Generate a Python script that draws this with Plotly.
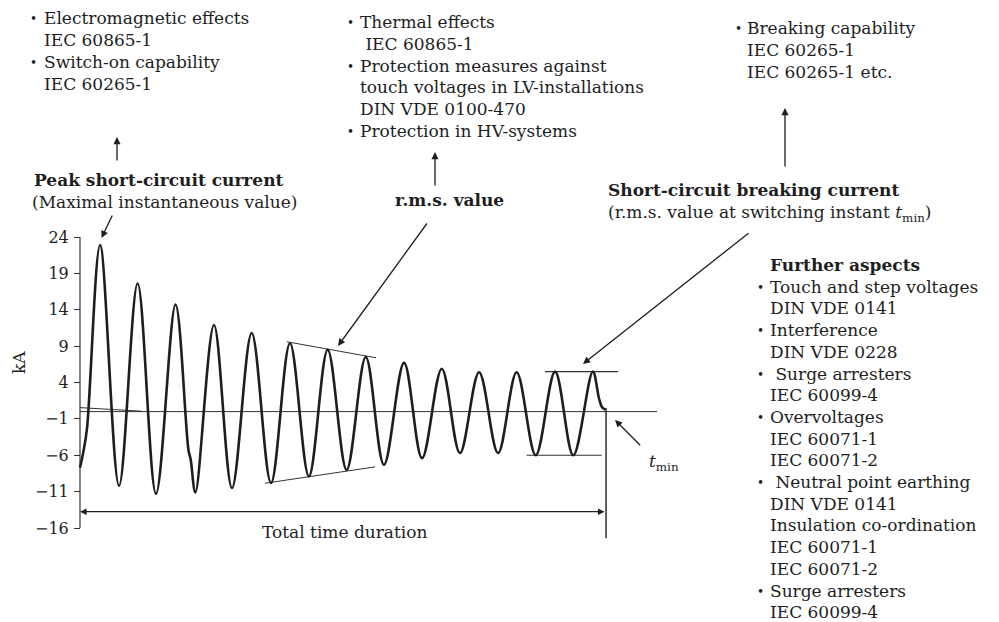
import plotly.graph_objects as go

# ---------------------------------------------------------------------------
# Short-circuit current i(t): extrema of the trace (plus the start, the
# notch in the third negative half-wave and the end at switching instant)
# time in ms (50 Hz -> 20 ms period), current in kA
# ---------------------------------------------------------------------------
t_ms = [0.0, 1.8, 3.7, 10.6, 20.6, 30.4, 40.1, 50.4, 57.2, 58.4, 60.9,
        70.7, 80.2, 90.6, 100.8, 110.8, 120.8, 130.7, 140.7, 150.8, 160.4,
        171.0, 180.5, 190.9, 200.5, 210.6, 220.6, 230.4, 240.5, 250.7, 260.3,
        270.6, 273.9, 275.5, 277.3]
i_ka = [-7.7, -5.5, -2.3, 22.9, -10.2, 17.6, -11.3, 14.7, -5.2, -6.6, -11.1,
        11.9, -10.5, 10.8, -9.8, 9.4, -8.9, 8.5, -8.0, 7.5, -7.3,
        6.7, -6.4, 5.9, -5.7, 5.4, -5.7, 5.4, -6.0, 5.5, -6.0,
        5.5, 1.8, 0.6, 0.3]

# decaying d.c. component near the start
dc_t = [0.0, 32.6]
dc_i = [0.55, 0.05]

# r.m.s. envelope lines
env_upper_t = [109.1, 156.2]
env_upper_i = [9.6, 7.4]
env_lower_t = [97.6, 155.7]
env_lower_i = [-9.85, -7.6]

# breaking current level lines (peak / trough at switching instant)
brk_upper_t = [245.4, 283.9]
brk_upper_i = [5.5, 5.5]
brk_lower_t = [235.7, 275.3]
brk_lower_i = [-6.0, -6.0]

# switching instant t_min and total duration
t_min_ms = 277.6
t_min_line_i = [0.5, -17.4]
duration_level = -13.76
baseline_end_ms = 304.5

y_ticks = [-16, -11, -6, -1, 4, 9, 14, 19, 24]

# ---------------------------------------------------------------------------
# Text blocks
# ---------------------------------------------------------------------------
block_emag = ["Electromagnetic effects", "IEC 60865-1",
              "Switch-on capability", "IEC 60265-1"]
block_emag_bullets = [True, False, True, False]

block_therm = ["Thermal effects", " IEC 60865-1", "Protection measures against",
               "touch voltages in LV-installations", "DIN VDE 0100-470",
               "Protection in HV-systems"]
block_therm_bullets = [True, False, True, False, False, True]

block_break = ["Breaking capability", "IEC 60265-1", "IEC 60265-1 etc."]
block_break_bullets = [True, False, False]

block_further = ["Touch and step voltages", "DIN VDE 0141", "Interference",
                 "DIN VDE 0228", " Surge arresters", "IEC 60099-4",
                 "Overvoltages", "IEC 60071-1", "IEC 60071-2",
                 " Neutral point earthing", "DIN VDE 0141",
                 "Insulation co-ordination", "IEC 60071-1", "IEC 60071-2",
                 "Surge arresters", "IEC 60099-4"]
block_further_bullets = [True, False, True, False, True, False, True, False,
                         False, True, False, False, False, False, True, False]

# ---------------------------------------------------------------------------
# Geometry helpers (figure pixels -> paper fractions)
# ---------------------------------------------------------------------------
W, H = 999, 622
FONT = "DejaVu Serif"
INK = "#1e1e1e"
LINE = "#333333"
TXT = 17


def px(x):
    return x / W


def py(y):
    return 1 - y / H


PX_PER_MS = 1.895
X0_PX = 80
X_RANGE = [-2.0, 310.0]
x_dom = [px(X0_PX + X_RANGE[0] * PX_PER_MS), px(X0_PX + X_RANGE[1] * PX_PER_MS)]

PX_PER_KA = 7.275
Y24_PX = 237
Y_RANGE = [-18.5, 26.0]
y_dom = [py(Y24_PX + (24 - Y_RANGE[0]) * PX_PER_KA),
         py(Y24_PX + (24 - Y_RANGE[1]) * PX_PER_KA)]

fig = go.Figure()


def add_line(xs, ys, width=1.0, color=LINE):
    fig.add_trace(go.Scatter(x=xs, y=ys, mode="lines", hoverinfo="skip",
                             line=dict(color=color, width=width)))


# baseline and vertical axis line
add_line([0, baseline_end_ms], [0, 0], 1.0)
add_line([0, 0], [y_ticks[0], y_ticks[-1]], 1.2)
add_line(dc_t, dc_i, 1.0)
add_line(env_upper_t, env_upper_i, 1.0)
add_line(env_lower_t, env_lower_i, 1.0)
add_line(brk_upper_t, brk_upper_i, 1.2)
add_line(brk_lower_t, brk_lower_i, 1.2)
add_line([t_min_ms, t_min_ms], t_min_line_i, 1.4, INK)

# the current waveform
fig.add_trace(go.Scatter(x=t_ms, y=i_ka, mode="lines", hoverinfo="skip",
                         line=dict(color=INK, width=2.6, shape="spline",
                                   smoothing=1.0)))

annotations = []


def text_at(x, y, s, bold=False, size=TXT, **kw):
    annotations.append(dict(
        x=px(x), y=py(y), xref="paper", yref="paper", text=s, showarrow=False,
        xanchor=kw.pop("xanchor", "left"), yanchor="middle",
        font=dict(family=FONT, size=size, color=INK,
                  weight="bold" if bold else "normal"), **kw))


def block(lines, bullets, x_bullet, x_text, y0, dy):
    for k, (s, b) in enumerate(zip(lines, bullets)):
        y = y0 + k * dy
        if b:
            text_at(x_bullet, y + 1, "•", size=12)
        text_at(x_text, y, s)


def arrow(hx, hy, tx, ty, width=1.3):
    annotations.append(dict(
        x=px(hx), y=py(hy), xref="paper", yref="paper", text="",
        showarrow=True, ax=tx - hx, ay=ty - hy, axref="pixel", ayref="pixel",
        arrowhead=2, arrowsize=1.1, arrowwidth=width, arrowcolor=INK,
        standoff=0))


block(block_emag, block_emag_bullets, 28, 42, 18, 22)
block(block_therm, block_therm_bullets, 345, 358, 22, 21.8)
block(block_break, block_break_bullets, 733, 745, 28, 22)
text_at(768, 265, "Further aspects", bold=True)
block(block_further, block_further_bullets, 755, 768, 265 + 21.7, 21.7)

text_at(32, 180, "Peak short-circuit current", bold=True)
text_at(30, 202, "(Maximal instantaneous value)")
text_at(393, 200, "r.m.s. value", bold=True)
text_at(606, 190, "Short-circuit breaking current", bold=True)
text_at(606, 213, "(r.m.s. value at switching instant <i>t</i><sub>min</sub>)")
text_at(345, 532, "Total time duration", xanchor="center")
text_at(647, 462, "<i>t</i><sub>min</sub>")
annotations.append(dict(
    x=px(19), y=py(363), xref="paper", yref="paper", text="kA",
    showarrow=False, textangle=-90, xanchor="center", yanchor="middle",
    font=dict(family=FONT, size=17, color=INK)))

# pointers
arrow(117, 137, 117, 162)
arrow(435, 152, 435, 187)
arrow(785, 108, 785, 168)
arrow(101.5, 238, 113, 214)
arrow(338, 346, 428, 222)
arrow(583, 364, 750, 232)
arrow(615, 420, 641.7, 446.7)

# total time duration, double-headed
annotations.append(dict(
    x=0, y=duration_level, xref="x", yref="y", text="",
    showarrow=True, ax=t_min_ms, ay=duration_level, axref="x", ayref="y",
    arrowhead=2, startarrowhead=2, arrowside="end+start", arrowsize=1.1,
    startarrowsize=1.1, arrowwidth=1.2, arrowcolor=INK, standoff=0,
    startstandoff=0))

fig.update_layout(
    width=W, height=H, margin=dict(l=0, r=0, t=0, b=0),
    paper_bgcolor="white", plot_bgcolor="white", showlegend=False,
    annotations=annotations,
    xaxis=dict(range=X_RANGE, domain=x_dom, visible=False),
    yaxis=dict(range=Y_RANGE, domain=y_dom, anchor="free", position=px(X0_PX),
               tickvals=y_ticks, ticks="outside", ticklen=6, tickwidth=1.2,
               tickcolor=LINE, showline=False, showgrid=False, zeroline=False,
               ticklabelstandoff=2,
               tickfont=dict(family=FONT, size=16, color=INK)),
)

fig.write_html("out.html")
